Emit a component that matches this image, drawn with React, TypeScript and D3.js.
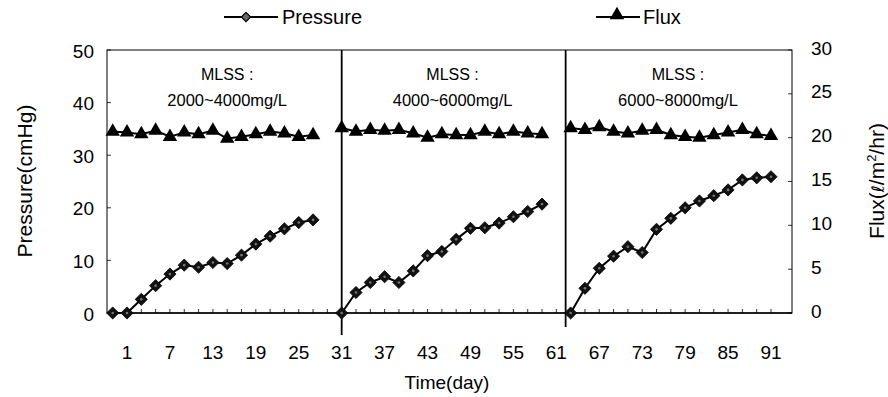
import React from "react";
import * as d3 from "d3";

// ---- data ----
const panelDays: number[][] = [
  [-1, 1, 3, 5, 7, 9, 11, 13, 15, 17, 19, 21, 23, 25, 27],
  [31, 33, 35, 37, 39, 41, 43, 45, 47, 49, 51, 53, 55, 57, 59],
  [63, 65, 67, 69, 71, 73, 75, 77, 79, 81, 83, 85, 87, 89, 91],
];
const pressure: number[][] = [
  [0, 0, 2.6, 5.2, 7.4, 9.1, 8.7, 9.6, 9.4, 11.0, 13.1, 14.6, 16.0, 17.2, 17.7],
  [0, 3.9, 5.8, 6.9, 5.8, 8.0, 10.9, 11.7, 14.0, 16.1, 16.2, 17.1, 18.3, 19.3, 20.7],
  [0, 4.7, 8.5, 10.8, 12.6, 11.5, 15.9, 18.0, 20.0, 21.3, 22.3, 23.4, 25.3, 25.7, 25.9],
];
const flux: number[][] = [
  [20.7, 20.6, 20.4, 20.8, 20.1, 20.6, 20.4, 20.8, 19.9, 20.1, 20.4, 20.7, 20.5, 20.1, 20.3],
  [21.1, 20.7, 20.9, 20.8, 20.9, 20.5, 20.0, 20.4, 20.3, 20.3, 20.7, 20.4, 20.7, 20.5, 20.4],
  [21.1, 20.9, 21.2, 20.7, 20.5, 20.8, 20.9, 20.3, 20.1, 20.0, 20.3, 20.6, 20.9, 20.4, 20.2],
];
const mlssLabels: string[] = ["2000~4000mg/L", "4000~6000mg/L", "6000~8000mg/L"];
const mlssCenters: number[] = [15, 46.5, 78];
const dividers: number[] = [31, 62.3];
const xTickLabels: number[] = [1, 7, 13, 19, 25, 31, 37, 43, 49, 55, 61, 67, 73, 79, 85, 91];
const leftTicks: number[] = [0, 10, 20, 30, 40, 50];
const rightTicks: number[] = [0, 5, 10, 15, 20, 25, 30];
const minorDays: number[] = d3.range(1, 93, 2);

const W = 888;
const H = 397;
const left = 107;
const right = 792;
const top = 50;
const bottom = 313;

const FONT = "'Liberation Sans', Arial, sans-serif";

export default function App() {
  const x = d3.scaleLinear().domain([-1, 91]).range([112.7, 771]);
  const yL = d3.scaleLinear().domain([0, 50]).range([bottom, top]);
  const yR = d3.scaleLinear().domain([0, 30]).range([bottom, top]);

  const diamond = d3.symbol().type(d3.symbolDiamond2).size(95)();
  const triangle = d3.symbol().type(d3.symbolTriangle).size(90)();

  const lineP = (i: number) =>
    d3
      .line<number>()
      .x((_, j) => x(panelDays[i][j]))
      .y((v) => yL(v))(pressure[i]) || "";
  const lineF = (i: number) =>
    d3
      .line<number>()
      .x((_, j) => x(panelDays[i][j]))
      .y((v) => yR(v))(flux[i]) || "";

  return (
    <svg
      width={W}
      height={H}
      style={{ position: "absolute", left: 0, top: 0, background: "#fff" }}
      fontFamily={FONT}
    >
      <rect x={0} y={0} width={W} height={H} fill="#fff" />
      {/* plot frame */}
      <rect x={left} y={top} width={right - left} height={bottom - top} fill="none" stroke="#000" strokeWidth={1} />
      {/* dividers */}
      {dividers.map((d, i) => (
        <line key={i} x1={x(d)} x2={x(d)} y1={top} y2={i === 0 ? 335 : 327} stroke="#000" strokeWidth={1.8} />
      ))}
      {/* minor x ticks */}
      {minorDays.map((d) => (
        <line key={d} x1={x(d)} x2={x(d)} y1={bottom} y2={bottom - 4} stroke="#000" strokeWidth={0.8} />
      ))}
      <line x1={left} x2={right} y1={bottom} y2={bottom} stroke="#000" strokeWidth={1.4} />
      {/* left ticks and labels */}
      {leftTicks.map((t) => (
        <g key={t}>
          <line x1={left} x2={left + 4} y1={yL(t)} y2={yL(t)} stroke="#000" strokeWidth={0.8} />
          <text x={94} y={yL(t) + 1} dy="0.35em" textAnchor="end" fontSize={19} fill="#000">
            {t}
          </text>
        </g>
      ))}
      {/* right ticks and labels */}
      {rightTicks.map((t) => (
        <g key={t}>
          <line x1={right} x2={right - 4} y1={yR(t)} y2={yR(t)} stroke="#000" strokeWidth={0.8} />
          <text x={811} y={yR(t) - 2} dy="0.35em" textAnchor="start" fontSize={19} fill="#000">
            {t}
          </text>
        </g>
      ))}
      {/* x labels */}
      {xTickLabels.map((t) => (
        <text key={t} x={x(t)} y={359} textAnchor="middle" fontSize={19} fill="#000">
          {t}
        </text>
      ))}
      {/* axis titles */}
      <text x={447} y={389} textAnchor="middle" fontSize={19} fill="#000">
        Time(day)
      </text>
      <text transform="translate(32,181) rotate(-90)" textAnchor="middle" fontSize={21} fill="#000">
        Pressure(cmHg)
      </text>
      <text transform="translate(884,181) rotate(-90)" textAnchor="middle" fontSize={21} fill="#000">
        Flux(<tspan fontFamily="'DejaVu Sans', sans-serif" fontSize={17}>ℓ</tspan>/m
        <tspan fontSize={13} dy={-8}>2</tspan>
        <tspan dy={8}>/hr)</tspan>
      </text>
      {/* MLSS annotations */}
      {mlssLabels.map((m, i) => (
        <g key={i}>
          <text x={x(mlssCenters[i])} y={80} textAnchor="middle" fontSize={16} fill="#000">
            MLSS :
          </text>
          <text x={x(mlssCenters[i])} y={106} textAnchor="middle" fontSize={16.5} fill="#000">
            {m}
          </text>
        </g>
      ))}
      {/* series */}
      {panelDays.map((days, i) => (
        <g key={i}>
          <path d={lineF(i)} fill="none" stroke="#000" strokeWidth={2} />
          {flux[i].map((v, j) => (
            <path key={j} d={triangle} transform={`translate(${x(days[j])},${yR(v)})`} fill="#000" />
          ))}
          <path d={lineP(i)} fill="none" stroke="#000" strokeWidth={2} />
          {pressure[i].map((v, j) => (
            <g key={j} transform={`translate(${x(days[j])},${yL(v)})`}>
              <path d={diamond} fill="#111" stroke="#000" strokeWidth={0.8} />
              <circle r={1.3} fill="#777" />
            </g>
          ))}
        </g>
      ))}
      {/* legend */}
      <line x1={224} x2={278} y1={17} y2={17} stroke="#000" strokeWidth={1.8} />
      <path d={d3.symbol().type(d3.symbolDiamond2).size(55)() || ""} transform="translate(246,17)" fill="#666" stroke="#000" strokeWidth={1.2} />
      <text x={282} y={24} fontSize={20} fill="#000">
        Pressure
      </text>
      <line x1={596} x2={640} y1={17} y2={17} stroke="#000" strokeWidth={1.8} />
      <path d={triangle} transform="translate(617,15)" fill="#000" />
      <text x={643} y={24} fontSize={20} fill="#000">
        Flux
      </text>
    </svg>
  );
}
